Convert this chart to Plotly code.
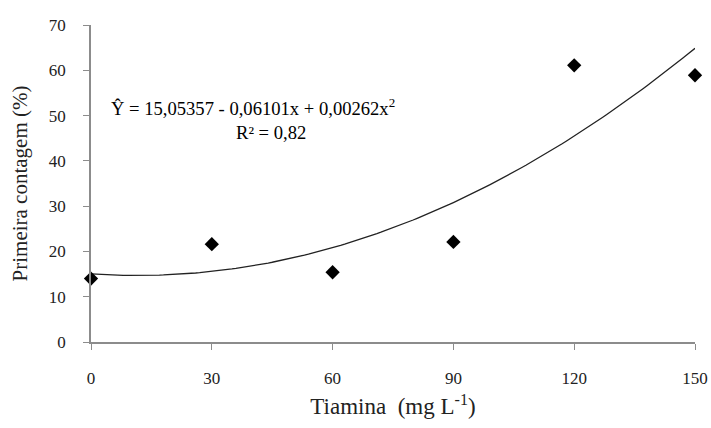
import numpy as np
import plotly.graph_objects as go

# Observed data
tiamina = [0, 30, 60, 90, 120, 150]
primeira_contagem = [14.0, 21.6, 15.4, 22.1, 61.1, 58.9]

# Regression coefficients shown on the chart
coef = [15.05357, -0.06101, 0.00262]

x_tick_vals = [0, 30, 60, 90, 120, 150]
y_tick_vals = [0, 10, 20, 30, 40, 50, 60, 70]

xs = np.linspace(0, 150, 151)
ys = coef[0] + coef[1] * xs + coef[2] * xs ** 2

font_family = "Liberation Serif"

fig = go.Figure()
fig.add_trace(go.Scatter(x=xs, y=ys, mode="lines",
                         line=dict(color="#222222", width=1.3),
                         showlegend=False, hoverinfo="skip", cliponaxis=False))
fig.add_trace(go.Scatter(x=tiamina, y=primeira_contagem, mode="markers",
                         marker=dict(symbol="diamond", size=11, color="black"),
                         showlegend=False, cliponaxis=False))

fig.add_annotation(x=0.030, y=0.742, xref="paper", yref="paper",
                   xanchor="left", yanchor="middle", showarrow=False,
                   text="Ŷ = 15,05357 - 0,06101x + 0,00262x<sup>2</sup>",
                   font=dict(family=font_family, size=18.6, color="black"))
fig.add_annotation(x=0.298, y=0.662, xref="paper", yref="paper",
                   xanchor="center", yanchor="middle", showarrow=False,
                   text="R² = 0,82",
                   font=dict(family=font_family, size=18.6, color="black"))

tick_font = dict(family=font_family, size=17, color="#222222")

fig.update_layout(
    width=711, height=428,
    margin=dict(l=91, r=16, t=25, b=86),
    plot_bgcolor="white", paper_bgcolor="white",
    font=dict(family=font_family, size=17, color="#222222"),
    xaxis=dict(range=[0, 150], tickvals=x_tick_vals, showgrid=False, automargin=False,
               zeroline=False, showline=True, linecolor="#8c8c8c", linewidth=1.5,
               ticks="outside", ticklen=6, tickcolor="#8c8c8c", ticklabelstandoff=14,
               tickfont=tick_font,
               title=dict(text="Tiamina\u00a0\u00a0(mg L<sup>-1</sup>)",
                          font=dict(family=font_family, size=23), standoff=11)),
    yaxis=dict(range=[0, 70], tickvals=y_tick_vals, showgrid=False, automargin=False,
               zeroline=False, showline=True, linecolor="#8c8c8c", linewidth=1.5,
               ticks="outside", ticklen=6, tickcolor="#8c8c8c", ticklabelstandoff=14,
               tickfont=tick_font,
               title=dict(text="Primeira contagem (%)",
                          font=dict(family=font_family, size=21), standoff=15)),
)

fig.write_html("out.html", config={"displayModeBar": False},
               post_script="document.body.style.margin='0';document.body.style.overflow='hidden';")
